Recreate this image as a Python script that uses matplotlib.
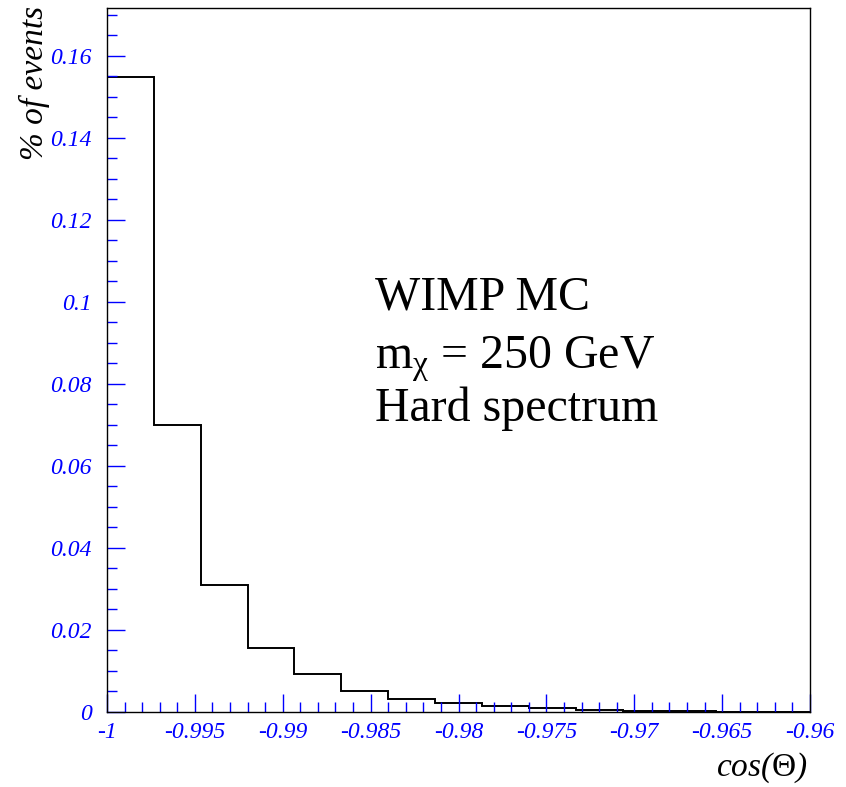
import numpy as np
import matplotlib
matplotlib.use("Agg")
import matplotlib.pyplot as plt
from matplotlib.ticker import MultipleLocator, FuncFormatter

plt.rcParams['font.family'] = ['Liberation Serif', 'DejaVu Serif']
plt.rcParams['mathtext.fontset'] = 'custom'
plt.rcParams['mathtext.rm'] = 'Liberation Serif'
plt.rcParams['mathtext.it'] = 'Liberation Serif:italic'
plt.rcParams['axes.unicode_minus'] = False

# histogram contents (fraction of events per cos(theta) bin)
fractions = [0.1549, 0.0700, 0.0310, 0.0156, 0.0093, 0.0051, 0.0032, 0.0021,
             0.0015, 0.0009, 0.0005, 0.0003, 0.0002, 0.0, 0.0]
x_lo, x_hi = -1.0, -0.96
edges = np.linspace(x_lo, x_hi, len(fractions) + 1)

blue = '#0000ff'

fig = plt.figure(figsize=(8.46, 7.87), dpi=100)
ax = fig.add_axes([107 / 846, 1 - 712 / 787, 703 / 846, 704 / 787])

ax.stairs(fractions, edges, color='black', linewidth=1.4)

ax.set_xlim(x_lo, x_hi)
ax.set_ylim(0, 0.1717)

ax.xaxis.set_major_locator(MultipleLocator(0.005))
ax.xaxis.set_minor_locator(MultipleLocator(0.001))
ax.yaxis.set_major_locator(MultipleLocator(0.02))
ax.yaxis.set_minor_locator(MultipleLocator(0.005))
fmt = FuncFormatter(lambda v, p: '%g' % round(v, 4))
ax.xaxis.set_major_formatter(fmt)
ax.yaxis.set_major_formatter(fmt)

ax.tick_params(which='both', direction='in', color=blue, labelcolor=blue,
               top=False, right=False, width=1)
ax.tick_params(which='major', length=13, labelsize=17)
ax.tick_params(which='minor', length=7)
ax.tick_params(axis='x', which='major', pad=7)
ax.tick_params(axis='y', which='major', pad=11)
for lab in ax.get_xticklabels() + ax.get_yticklabels():
    lab.set_fontstyle('italic')

for s in ax.spines.values():
    s.set_color('black')
    s.set_linewidth(1.0)

fig.text(34 / 846, 1 - 6 / 787, '% of events', rotation=90, ha='center',
         va='top', fontsize=24, fontstyle='italic')
fig.text(808 / 846, 1 - 768 / 787, r'cos($\Theta$)', ha='right',
         va='center', fontsize=24, fontstyle='italic')

fig.text(375 / 846, 1 - 310 / 787, 'WIMP MC', fontsize=34.5, va='baseline')
fig.text(375 / 846, 1 - 368 / 787, r'm$_{\mathrm{\chi}}$ = 250 GeV',
         fontsize=34.5, va='baseline')
fig.text(375 / 846, 1 - 421 / 787, 'Hard spectrum', fontsize=34.5,
         va='baseline')

fig.savefig('out.png', dpi=100)
